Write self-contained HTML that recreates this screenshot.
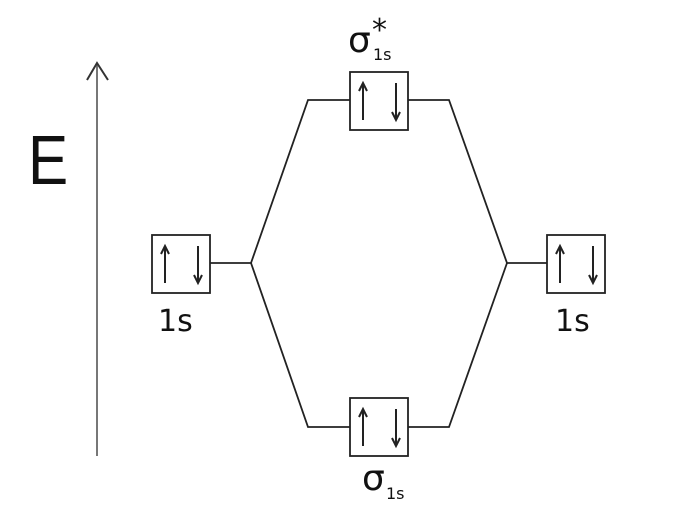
<!DOCTYPE html>
<html><head><style>body{margin:0;background:#fff}svg{display:block}</style></head><body>
<svg width="683" height="524" viewBox="0 0 683 524" xmlns="http://www.w3.org/2000/svg">
<defs>
<g id="a" stroke="#222" stroke-width="2" fill="none">
<line x1="0" y1="11" x2="0" y2="48"/><polyline points="-4,19 0,11 4,19"/>
<line x1="33" y1="11" x2="33" y2="48"/><polyline points="29,40 33,48 37,40"/>
</g>
</defs>
<g stroke="#222" stroke-width="1.8" fill="none">
<line x1="97" y1="456" x2="97" y2="63" stroke="#777" stroke-width="2"/>
<polyline points="87,80 97,63 108,80" stroke="#333" stroke-width="2"/>
<polyline points="210,263 251,263 308,100 350,100"/>
<polyline points="251,263 308,427 350,427"/>
<polyline points="408,100 449,100 507,263 547,263"/>
<polyline points="408,427 449,427 507,263"/>
<rect x="350" y="72" width="58" height="58"/>
<rect x="152" y="235" width="58" height="58"/>
<rect x="547" y="235" width="58" height="58"/>
<rect x="350" y="398" width="58" height="58"/>
</g>
<use href="#a" x="363" y="72"/>
<use href="#a" x="363" y="398"/>
<use href="#a" x="165" y="235"/>
<use href="#a" x="560" y="235"/>
<g font-family="DejaVu Sans, Liberation Sans, sans-serif" fill="#111">
<text x="28" y="184" font-size="70" font-family="Liberation Sans, sans-serif" transform="translate(28 0) scale(0.86 1) translate(-28 0)">E</text>
<text x="158" y="331" font-size="30">1s</text>
<text x="555" y="331" font-size="30">1s</text>
<text x="348" y="52" font-size="36">σ</text>
<text x="372" y="40" font-size="30">*</text>
<text x="373" y="60" font-size="16">1s</text>
<text x="362" y="490" font-size="36">σ</text>
<text x="386" y="499" font-size="16">1s</text>
</g>
</svg>
</body></html>
